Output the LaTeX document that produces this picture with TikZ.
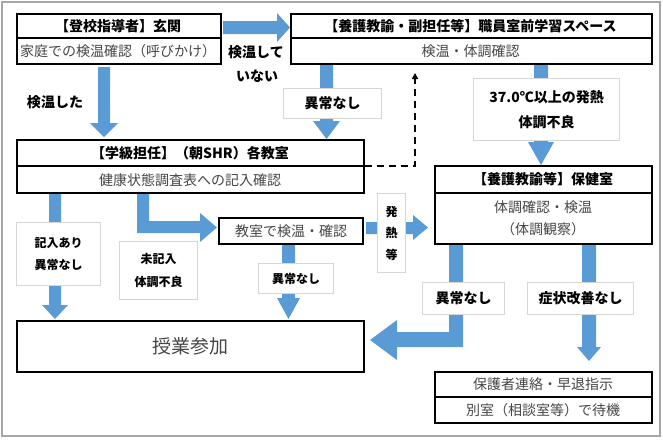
\documentclass[tikz,border=0pt]{standalone}
\usepackage{fontspec}
\newfontfamily\jp{Noto Sans CJK JP}
\usetikzlibrary{arrows.meta}
\definecolor{arblue}{HTML}{5B9BD5}
\definecolor{lbgray}{HTML}{D6D6D6}
\definecolor{subgray}{HTML}{454545}
\definecolor{framegray}{HTML}{A6A6A6}
\begin{document}
\begin{tikzpicture}[x=1pt,y=-1pt,
  bx/.style={draw=black, line width=2pt, inner sep=0pt, anchor=north west},
  lbox/.style={draw=lbgray, line width=1.3pt, fill=white, inner sep=0pt, anchor=north west, align=center,
     font=\jp\bfseries\fontsize{14}{25}\selectfont},
  slbox/.style={lbox, font=\jp\bfseries\fontsize{12}{22.5}\selectfont},
  ar/.style={fill=arblue, draw=none},
  ttl/.style={font=\jp\bfseries\fontsize{14}{16}\selectfont, inner sep=0pt},
  sub/.style={font=\jp\fontsize{14}{16}\selectfont, text=subgray, inner sep=0pt},
  free/.style={font=\jp\bfseries\fontsize{14}{16}\selectfont, inner sep=0pt},
  divider/.style={line width=2pt}]
\useasboundingbox (0,0) rectangle (663,439);
\draw[framegray, line width=1.6pt] (2,2) rectangle (660,436);

% ---------- block arrows ----------
\fill[ar] (223,21) -- (277,21) -- (277,13) -- (290,27.5) -- (277,42) -- (277,34) -- (223,34) -- cycle;
\fill[ar] (98,67) -- (110,67) -- (110,123) -- (118,123) -- (104,137) -- (90,123) -- (98,123) -- cycle;
\fill[ar] (320,65) -- (333,65) -- (333,121) -- (340,121) -- (326.5,139) -- (313,121) -- (320,121) -- cycle;
\fill[ar] (534,65) -- (548,65) -- (548,142) -- (554,142) -- (541,165) -- (528,142) -- (534,142) -- cycle;
\fill[ar] (137,194) -- (149,194) -- (149,221) -- (200,221) -- (200,213) -- (217,227.5) -- (200,242) -- (200,233) -- (137,233) -- cycle;
\fill[ar] (49,194) -- (61,194) -- (61,305) -- (68,305) -- (55,319) -- (42,305) -- (49,305) -- cycle;
\fill[ar] (282,245) -- (295,245) -- (295,298) -- (300,298) -- (288.5,319) -- (277,298) -- (282,298) -- cycle;
\fill[ar] (366,222) -- (413,222) -- (413,215) -- (428,227.5) -- (413,240) -- (413,234) -- (366,234) -- cycle;
\fill[ar] (449,245) -- (463,245) -- (463,347) -- (397,347) -- (397,360) -- (370,340) -- (397,320) -- (397,332) -- (449,332) -- cycle;
\fill[ar] (582,245) -- (596,245) -- (596,347) -- (601,347) -- (589,361) -- (577,347) -- (582,347) -- cycle;

% ---------- boxes ----------
\node[bx, minimum width=204pt, minimum height=50pt] (A) at (16,13) {};
\coordinate (dA) at (0,38);
\draw[divider] (A.west |- dA) -- (A.east |- dA);
\node[ttl] (At) at (118,26) {【登校指導者】玄関};
\node[sub] (As) at (118,51) {家庭での検温確認（呼びかけ）};

\node[bx, minimum width=361pt, minimum height=50pt] (B) at (290,13) {};
\draw[divider] (B.west |- dA) -- (B.east |- dA);
\node[ttl] (Bt) at (470.5,26) {【養護教諭・副担任等】職員室前学習スペース};
\node[sub] (Bs) at (470.5,51) {検温・体調確認};

\node[bx, minimum width=347pt, minimum height=53pt] (C) at (16,139) {};
\coordinate (dC) at (0,166);
\draw[divider] (C.west |- dC) -- (C.east |- dC);
\node[ttl] (Ct) at (190,153) {【学級担任】（朝SHR）各教室};
\node[sub] (Cs) at (190,180) {健康状態調査表への記入確認};

\node[bx, minimum width=217pt, minimum height=78pt] (D) at (434,165) {};
\coordinate (dD) at (0,193);
\draw[divider] (D.west |- dD) -- (D.east |- dD);
\node[ttl] (Dt) at (543,179.5) {【養護教諭等】保健室};
\node[sub] (Ds1) at (543,207) {体調確認・検温};
\node[sub] (Ds2) at (543,229) {（体調観察）};

\node[bx, minimum width=144pt, minimum height=26pt] (E) at (218,217) {};
\node[sub] (Et) at (E.center) {教室で検温・確認};

\node[bx, minimum width=347pt, minimum height=51pt] (F) at (16,320) {};
\node[sub, font=\jp\fontsize{19}{21}\selectfont] (Ft) at (190,346) {授業参加};

\node[bx, minimum width=217pt, minimum height=51pt] (G) at (434,371) {};
\coordinate (dG) at (0,397);
\draw[divider] (G.west |- dG) -- (G.east |- dG);
\node[sub] (Gs1) at (543,384.5) {保護者連絡・早退指示};
\node[sub] (Gs2) at (543,410) {別室（相談室等）で待機};

% ---------- dashed connector ----------
\coordinate (dashEnd) at (415,73);
\draw[line width=1.8pt, dash pattern=on 7pt off 5pt, -{Triangle[length=6pt,width=6pt]}]
  (C.east |- dC) -| (dashEnd);

% ---------- labels ----------
\node[lbox, minimum width=98pt, minimum height=30pt] (L1) at (283,88) {異常なし};
\node[lbox, minimum width=146pt, minimum height=62pt] (L2) at (473,78) {37.0℃以上の発熱\\体調不良};
\node[slbox, minimum width=84pt, minimum height=63pt] (L3) at (16,222) {記入あり\\異常なし};
\node[slbox, minimum width=78pt, minimum height=58pt] (L4) at (119,241) {未記入\\体調不良};
\node[slbox, minimum width=75pt, minimum height=30pt] (L5) at (258,263) {異常なし};
\node[slbox, minimum width=28pt, minimum height=79pt, font=\jp\bfseries\fontsize{12}{21.5}\selectfont] (L6) at (377,193) {発\\熱\\等};
\node[lbox, minimum width=82pt, minimum height=32pt] (L7) at (422,282) {異常なし};
\node[lbox, minimum width=106pt, minimum height=32pt] (L8) at (527,282) {症状改善なし};

\node[free] (N1) at (256,52) {検温して};
\node[free] (N2) at (257,76) {いない};
\node[free] (N3) at (55,102) {検温した};
\end{tikzpicture}
\end{document}
